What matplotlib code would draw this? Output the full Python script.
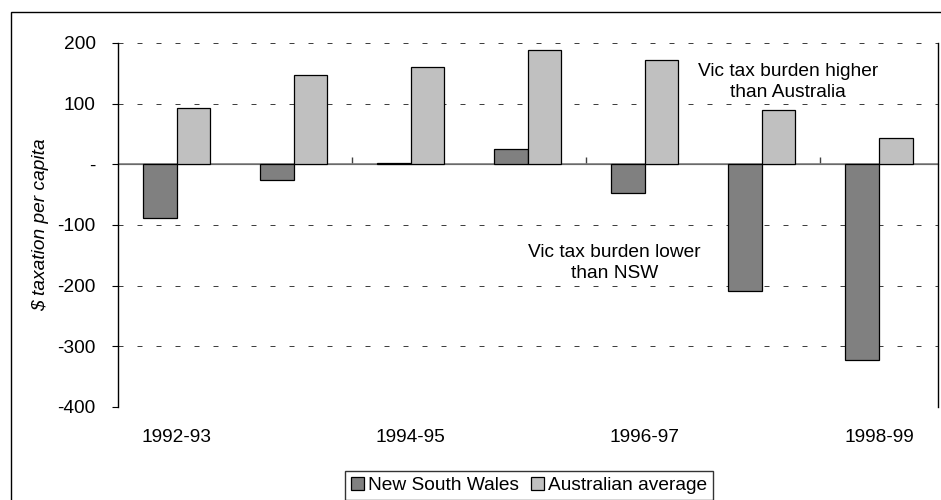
import matplotlib
matplotlib.use("Agg")
import matplotlib.pyplot as plt
from matplotlib.patches import Rectangle
import numpy as np

plt.rcParams['font.family'] = ['Liberation Sans', 'DejaVu Sans']

categories = ["1992-93", "1993-94", "1994-95", "1995-96", "1996-97", "1997-98", "1998-99"]
nsw = [-89, -26, 2, 25, -47, -209, -322]
aus = [93, 148, 161, 189, 172, 90, 43]
yticks = [200, 100, 0, -100, -200, -300, -400]
ytick_labels = ["200", "100", "-", "-100", "-200", "-300", "-400"]
series_names = ["New South Wales", "Australian average"]

FS = 13.8
W, H = 941, 500
fig = plt.figure(figsize=(W / 100, H / 100), dpi=100)

# outer frame
fig.patches.append(Rectangle((11 / W, -0.1), 1.2, 1 - 12 / H + 0.1, transform=fig.transFigure,
                             fill=False, edgecolor='black', linewidth=1.0))

ax = fig.add_axes([118 / W, 1 - 407 / H, (937.5 - 118) / W, (407 - 43) / H])

x = np.arange(len(categories))
bw = 0.287
b1 = ax.bar(x - bw / 2, nsw, bw, color='#808080', edgecolor='black', linewidth=0.9,
            label=series_names[0], zorder=3)
b2 = ax.bar(x + bw / 2, aus, bw, color='#C0C0C0', edgecolor='black', linewidth=0.9,
            label=series_names[1], zorder=3)

ax.set_xlim(-0.5, len(categories) - 0.5)
ax.set_ylim(-400, 200)

# gridlines
for yv in yticks:
    if yv != 0:
        ax.axhline(yv, color='#404040', linewidth=0.72, linestyle=(0, (5, 14)), zorder=1)
ax.axhline(0, color='#808080', linewidth=1.2, zorder=2)

for s in ['top', 'bottom']:
    ax.spines[s].set_visible(False)
for s in ['left', 'right']:
    ax.spines[s].set_color('black')
    ax.spines[s].set_linewidth(1.0)
    ax.spines[s].set_zorder(5)

ax.set_yticks(yticks)
ax.set_yticklabels(ytick_labels)
ax.tick_params(axis='y', direction='out', length=4, width=0.8, labelsize=FS, pad=12)

ax.set_xticks(x)
ax.set_xticklabels([c if i % 2 == 0 else "" for i, c in enumerate(categories)])
ax.tick_params(axis='x', length=0, labelsize=FS, pad=16)

# boundary tick marks on the zero line
ylo, yhi = ax.get_ylim()
sec = ax.secondary_xaxis((0 - ylo) / (yhi - ylo))
sec.set_xticks(x[1:-1:2] + 0.5)
sec.set_xticklabels([])
sec.tick_params(axis='x', direction='out', length=5, width=1.0, color='#404040')
sec.spines['bottom'].set_visible(False)

ax.set_ylabel("$ taxation per capita", fontstyle='italic', fontsize=FS, labelpad=6)

ax.text(5.22, 136, "Vic tax burden higher\nthan Australia", ha='center', va='center',
        fontsize=FS, linespacing=1.3, zorder=4)
ax.text(3.74, -162, "Vic tax burden lower\nthan NSW", ha='center', va='center',
        fontsize=FS, linespacing=1.3, zorder=4)

leg = fig.legend(handles=[b1, b2], loc='upper center', bbox_to_anchor=(529 / W, 1 - 471 / H),
                 ncol=2, frameon=True, fancybox=False, fontsize=FS, handlelength=0.7,
                 handleheight=0.7, handletextpad=0.2, columnspacing=0.6, borderpad=0.3,
                 borderaxespad=0, edgecolor='black')
leg.get_frame().set_linewidth(1.0)

fig.savefig("out.png", dpi=100)
